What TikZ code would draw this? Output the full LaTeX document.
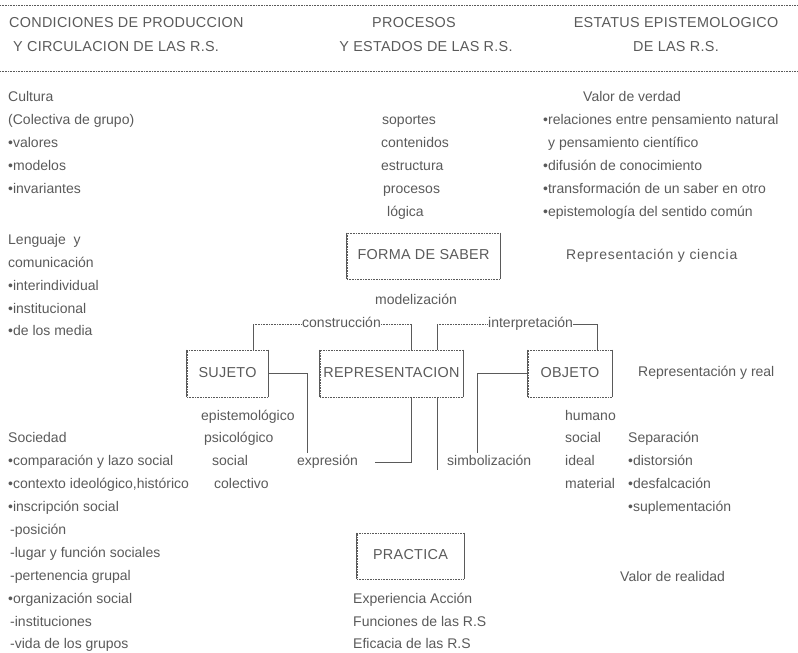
\documentclass[tikz,border=0pt]{standalone}
\usepackage{fontspec}
\setmainfont{Liberation Sans}
\definecolor{ink}{HTML}{5A5A5A}
\begin{document}
\begin{tikzpicture}[x=1pt,y=-1pt,
  txt/.style={anchor=west,inner sep=0,text=ink,font=\fontsize{14}{16}\selectfont,text height=10pt,text depth=3pt},
  ctxt/.style={txt,anchor=center},
  capt/.style={inner sep=0,text=ink,font=\fontsize{14.4}{16}\selectfont\addfontfeature{LetterSpace=2},text height=10pt,text depth=3pt},
  rbox/.style={capt,draw=ink,densely dotted,line width=0.6pt,anchor=center},
  boxside/.style={draw=ink,line width=0.7pt},
  wire/.style={draw=ink,line width=0.7pt},
  dotwire/.style={draw=ink,line width=0.6pt,densely dotted},
  rulel/.style={draw=ink,line width=0.6pt,densely dotted}]
\useasboundingbox (0,0) rectangle (798,653);
% rules
\coordinate (r1a) at (0,5); \coordinate (r1b) at (798,5);
\coordinate (r2a) at (0,71); \coordinate (r2b) at (798,71);
\draw[rulel] (r1a) -- (r1b);
\draw[rulel] (r2a) -- (r2b);
% headers
\node[capt,anchor=west] (h1a) at (9,24) {CONDICIONES DE PRODUCCION};
\node[capt,anchor=west] (h1b) at (13,48) {Y CIRCULACION DE LAS R.S.};
\node[capt] (h2a) at (414,24) {PROCESOS};
\node[capt] (h2b) at (426,48) {Y ESTADOS DE LAS R.S.};
\node[capt] (h3a) at (676,24) {ESTATUS EPISTEMOLOGICO};
\node[capt] (h3b) at (676,48) {DE LAS R.S.};
% left column
\node[txt] (l1) at (8,98) {Cultura};
\node[txt] (l2) at (8,121) {(Colectiva de grupo)};
\node[txt] (l3) at (8,144) {•valores};
\node[txt] (l4) at (8,167) {•modelos};
\node[txt] (l5) at (8,190) {•invariantes};
\node[txt] (l6) at (8,241) {Lenguaje\ \ y};
\node[txt] (l7) at (8,264) {comunicación};
\node[txt] (l8) at (8,287) {•interindividual};
\node[txt] (l9) at (8,310) {•institucional};
\node[txt] (l10) at (8,332) {•de los media};
\node[txt] (l11) at (8,439) {Sociedad};
\node[txt] (l12) at (8,462) {•comparación y lazo social};
\node[txt] (l13) at (8,485) {•contexto ideológico,histórico};
\node[txt] (l14) at (8,508) {•inscripción social};
\node[txt] (l15) at (10,531) {-posición};
\node[txt] (l16) at (10,554) {-lugar y función sociales};
\node[txt] (l17) at (10,577) {-pertenencia grupal};
\node[txt] (l18) at (8,600) {•organización social};
\node[txt] (l19) at (10,623) {-instituciones};
\node[txt] (l20) at (10,645) {-vida de los grupos};
% middle column
\node[txt] (m1) at (382,121) {soportes};
\node[txt] (m2) at (381,144) {contenidos};
\node[txt] (m3) at (381,167) {estructura};
\node[txt] (m4) at (383,190) {procesos};
\node[txt] (m5) at (387,213) {lógica};
\node[rbox,minimum width=153pt,minimum height=46pt] (forma) at (423.5,256) {FORMA DE SABER};
\node[ctxt] (model) at (416,301) {modelización};
\node[txt] (constr) at (302,324) {construcción};
\node[txt] (interp) at (488,324) {interpretación};
\node[rbox,minimum width=81pt,minimum height=47pt] (sujeto) at (227.5,373.5) {SUJETO};
\node[rbox,minimum width=143pt,minimum height=47pt] (repr) at (391.5,373.5) {REPRESENTACION};
\node[rbox,minimum width=84pt,minimum height=47pt] (objeto) at (570,373.5) {OBJETO};
\node[txt] (s1) at (201,417) {epistemológico};
\node[txt] (s2) at (204,439) {psicológico};
\node[txt] (s3) at (212,462) {social};
\node[txt] (s4) at (214,485) {colectivo};
\node[txt] (expr) at (297,462) {expresión};
\node[txt] (simb) at (447,462) {simbolización};
\node[txt] (o1) at (565,417) {humano};
\node[txt] (o2) at (565,439) {social};
\node[txt] (o3) at (565,462) {ideal};
\node[txt] (o4) at (565,485) {material};
\node[rbox,minimum width=107pt,minimum height=46pt] (practica) at (410.5,556) {PRACTICA};
\node[txt] (p1) at (353,600) {Experiencia Acción};
\node[txt] (p2) at (353,623) {Funciones de las R.S};
\node[txt] (p3) at (353,645) {Eficacia de las R.S};
% right column
\node[txt] (v1) at (583,98) {Valor de verdad};
\node[txt] (v2) at (543,121) {•relaciones entre pensamiento natural};
\node[txt] (v3) at (548,144) {y pensamiento científico};
\node[txt] (v4) at (543,167) {•difusión de conocimiento};
\node[txt] (v5) at (543,190) {•transformación de un saber en otro};
\node[txt] (v6) at (543,213) {•epistemología del sentido común};
\node[txt,font=\fontsize{14}{16}\selectfont\addfontfeature{LetterSpace=5}] (rc) at (566,256) {Representación y ciencia};
\node[txt] (rr) at (638,373) {Representación y real};
\node[txt] (sep) at (628,439) {Separación};
\node[txt] (sep1) at (628,462) {•distorsión};
\node[txt] (sep2) at (628,485) {•desfalcación};
\node[txt] (sep3) at (628,508) {•suplementación};
\node[txt] (vr) at (620,578) {Valor de realidad};
% solid box sides
\foreach \n in {forma,sujeto,repr,objeto,practica}
  \draw[boxside] (\n.north west) -- (\n.south west) (\n.north east) -- (\n.south east);
% connectors
\coordinate (cA) at (253,324); \coordinate (cB) at (411,324);
\coordinate (iA) at (437,324); \coordinate (iB) at (597,324);
\coordinate (sx) at (307,453); \coordinate (rx1) at (411,462);
\coordinate (rxe) at (375,462); \coordinate (ry) at (437,470);
\coordinate (ox) at (477,453);
\draw[wire] (sujeto.north -| cA) -- (cA);
\draw[dotwire] (cA) -- (constr.west);
\draw[dotwire] (constr.east) -- (cB);
\draw[wire] (cB) -- (repr.north -| cB);
\draw[wire] (repr.north -| iA) -- (iA);
\draw[dotwire] (iA) -- (interp.west);
\draw[wire] (interp.east) -- (iB);
\draw[wire] (iB) -- (objeto.north -| iB);
\draw[wire] (sujeto.east) -| (sx);
\draw[wire] (repr.south -| rx1) |- (rxe);
\draw[wire] (repr.south -| ry) -- (ry);
\draw[wire] (objeto.west) -| (ox);
\end{tikzpicture}
\end{document}
